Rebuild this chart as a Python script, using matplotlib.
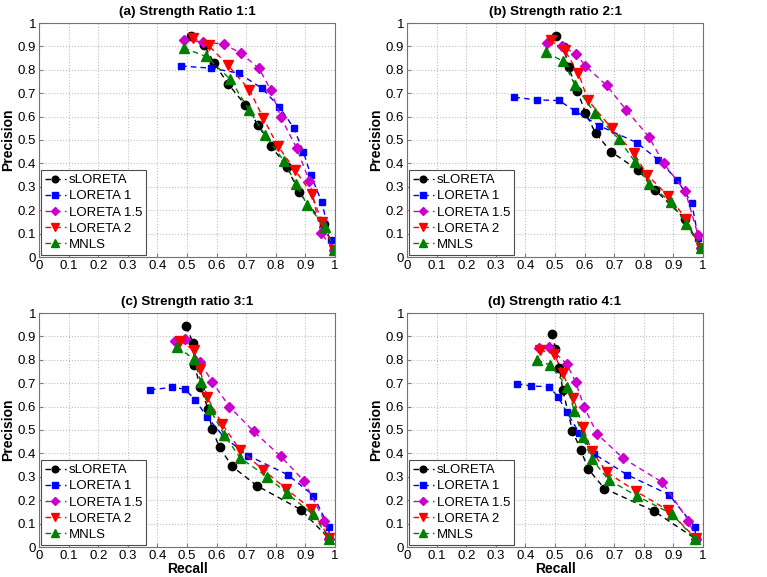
import numpy as np
import matplotlib
matplotlib.use('Agg')
import matplotlib.pyplot as plt

plt.rcParams['font.family'] = ['Liberation Sans', 'DejaVu Sans']

methods = ['sLORETA', 'LORETA 1', 'LORETA 1.5', 'LORETA 2', 'MNLS']
colors = ['black', 'blue', '#cc00cc', 'red', 'green']
markers = ['o', 's', 'D', 'v', '^']
msizes = [6, 5, 5.5, 6.5, 6.5]
titles = ['(a) Strength Ratio 1:1', '(b) Strength ratio 2:1',
          '(c) Strength ratio 3:1', '(d) Strength ratio 4:1']

# (a) ratio 1:1  -- recall, precision per method
a_recall = [
    [0.512, 0.558, 0.591, 0.639, 0.697, 0.740, 0.783, 0.837, 0.879, 0.962, 0.998],
    [0.480, 0.581, 0.674, 0.753, 0.811, 0.860, 0.893, 0.918, 0.956, 0.985, 0.998],
    [0.490, 0.553, 0.624, 0.682, 0.743, 0.783, 0.817, 0.871, 0.913, 0.953, 0.998],
    [0.519, 0.573, 0.639, 0.711, 0.758, 0.806, 0.865, 0.921, 0.955, 0.998],
    [0.489, 0.564, 0.646, 0.709, 0.764, 0.828, 0.867, 0.907, 0.966, 0.998],
]
a_prec = [
    [0.946, 0.904, 0.831, 0.739, 0.650, 0.564, 0.476, 0.386, 0.276, 0.140, 0.031],
    [0.816, 0.807, 0.786, 0.721, 0.643, 0.553, 0.450, 0.350, 0.233, 0.073, 0.031],
    [0.927, 0.919, 0.910, 0.871, 0.806, 0.714, 0.597, 0.464, 0.326, 0.101, 0.031],
    [0.936, 0.904, 0.819, 0.714, 0.593, 0.476, 0.371, 0.271, 0.151, 0.031],
    [0.893, 0.857, 0.760, 0.629, 0.521, 0.410, 0.314, 0.221, 0.130, 0.031],
]

# (b) ratio 2:1
b_recall = [
    [0.503, 0.530, 0.546, 0.575, 0.603, 0.637, 0.690, 0.782, 0.839, 0.939, 0.992],
    [0.363, 0.438, 0.513, 0.569, 0.649, 0.776, 0.848, 0.912, 0.962, 0.984, 0.992],
    [0.474, 0.522, 0.570, 0.603, 0.674, 0.740, 0.817, 0.867, 0.940, 0.983, 0.992],
    [0.485, 0.533, 0.579, 0.611, 0.691, 0.767, 0.811, 0.883, 0.943, 0.992],
    [0.471, 0.528, 0.567, 0.635, 0.716, 0.770, 0.816, 0.892, 0.944, 0.992],
]
b_prec = [
    [0.946, 0.896, 0.811, 0.711, 0.617, 0.529, 0.449, 0.371, 0.286, 0.163, 0.039],
    [0.683, 0.671, 0.669, 0.623, 0.561, 0.489, 0.416, 0.331, 0.230, 0.083, 0.039],
    [0.914, 0.900, 0.869, 0.816, 0.734, 0.629, 0.514, 0.400, 0.281, 0.096, 0.039],
    [0.926, 0.883, 0.786, 0.671, 0.550, 0.443, 0.351, 0.260, 0.163, 0.039],
    [0.874, 0.836, 0.736, 0.614, 0.503, 0.407, 0.314, 0.234, 0.140, 0.039],
]

# (c) ratio 3:1
c_recall = [
    [0.498, 0.521, 0.525, 0.545, 0.571, 0.584, 0.610, 0.652, 0.736, 0.884, 0.981],
    [0.375, 0.449, 0.492, 0.527, 0.567, 0.626, 0.707, 0.840, 0.927, 0.979, 0.981],
    [0.461, 0.493, 0.544, 0.585, 0.643, 0.725, 0.817, 0.894, 0.964, 0.981],
    [0.478, 0.522, 0.544, 0.568, 0.619, 0.678, 0.758, 0.834, 0.919, 0.981],
    [0.466, 0.524, 0.546, 0.577, 0.626, 0.680, 0.770, 0.837, 0.925, 0.981],
]
c_prec = [
    [0.943, 0.870, 0.776, 0.685, 0.590, 0.505, 0.426, 0.345, 0.262, 0.160, 0.035],
    [0.672, 0.682, 0.675, 0.630, 0.557, 0.468, 0.390, 0.309, 0.220, 0.085, 0.035],
    [0.879, 0.887, 0.791, 0.706, 0.600, 0.494, 0.387, 0.284, 0.113, 0.035],
    [0.882, 0.841, 0.759, 0.640, 0.525, 0.416, 0.329, 0.250, 0.162, 0.040],
    [0.854, 0.804, 0.706, 0.589, 0.479, 0.380, 0.301, 0.230, 0.140, 0.035],
]

# (d) ratio 4:1
d_recall = [
    [0.490, 0.501, 0.515, 0.526, 0.559, 0.587, 0.613, 0.667, 0.835, 0.975],
    [0.371, 0.419, 0.480, 0.511, 0.539, 0.582, 0.633, 0.743, 0.885, 0.973, 0.975],
    [0.447, 0.480, 0.539, 0.570, 0.598, 0.643, 0.730, 0.862, 0.951, 0.975],
    [0.449, 0.498, 0.526, 0.562, 0.594, 0.624, 0.675, 0.774, 0.883, 0.975],
    [0.439, 0.484, 0.542, 0.565, 0.593, 0.624, 0.681, 0.778, 0.894, 0.973],
]
d_prec = [
    [0.911, 0.847, 0.767, 0.672, 0.497, 0.414, 0.332, 0.250, 0.153, 0.035],
    [0.698, 0.688, 0.685, 0.641, 0.577, 0.488, 0.397, 0.309, 0.224, 0.085, 0.035],
    [0.851, 0.854, 0.783, 0.705, 0.599, 0.482, 0.379, 0.277, 0.113, 0.035],
    [0.843, 0.823, 0.743, 0.635, 0.513, 0.411, 0.319, 0.238, 0.156, 0.038],
    [0.800, 0.777, 0.684, 0.582, 0.471, 0.376, 0.287, 0.217, 0.142, 0.035],
]

recalls = [a_recall, b_recall, c_recall, d_recall]
precs = [a_prec, b_prec, c_prec, d_prec]

fig = plt.figure(figsize=(7.67, 5.77), dpi=100)
W, H = 767., 577.
boxes = [(39, 23), (407, 23), (39, 313), (407, 313)]
ticks = np.round(np.arange(0, 1.01, 0.1), 1)
ticklabels = ['0'] + ['%.1f' % t for t in ticks[1:-1]] + ['1']

for k in range(4):
    x0, y0 = boxes[k]
    ax = fig.add_axes([x0 / W, 1 - (y0 + 234) / H, 296 / W, 234 / H])
    for i in range(5):
        ax.plot(recalls[k][i], precs[k][i], linestyle='--', dashes=(4, 3),
                color=colors[i], marker=markers[i], markersize=msizes[i],
                markerfacecolor=colors[i], markeredgecolor=colors[i],
                linewidth=1, label=methods[i])
    ax.set_xlim(0, 1)
    ax.set_ylim(0, 1)
    ax.set_xticks(ticks)
    ax.set_yticks(ticks)
    ax.set_xticklabels(ticklabels, fontsize=9.5)
    ax.set_yticklabels(ticklabels, fontsize=9.5)
    ax.tick_params(direction='in', length=3, color='0.5', pad=2)
    ax.grid(True, linestyle=':', color='0.75', linewidth=0.8)
    for s in ax.spines.values():
        s.set_color('0.45')
        s.set_linewidth(0.8)
    ax.set_title(titles[k], fontsize=9.7, fontweight='bold', pad=6)
    ax.set_ylabel('Precision', fontsize=10, fontweight='bold', labelpad=2)
    if k >= 2:
        ax.set_xlabel('Recall', fontsize=10, fontweight='bold', labelpad=0)
    leg = ax.legend(loc='lower left', fontsize=9.5, fancybox=False, framealpha=1,
                    edgecolor='0.3', borderpad=0.3, labelspacing=0.3,
                    handlelength=1.6, handletextpad=0.2, borderaxespad=0.15,
                    markerscale=0.8)
    leg.get_frame().set_linewidth(0.8)

fig.savefig('out.png', dpi=100)
